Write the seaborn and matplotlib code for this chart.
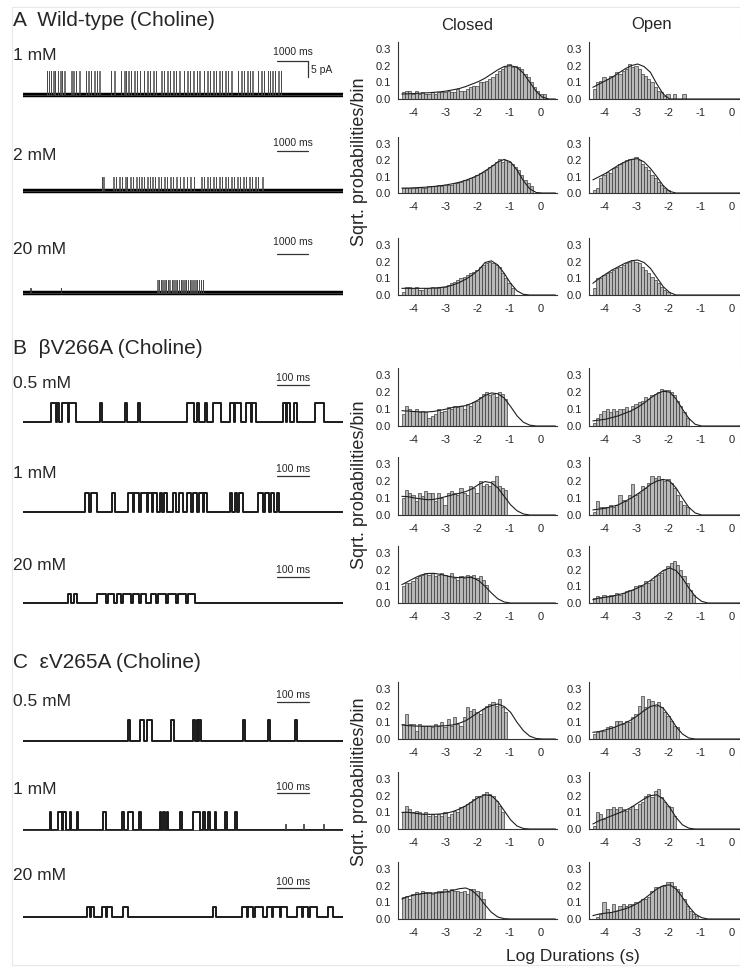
import numpy as np
import pandas as pd
import matplotlib
matplotlib.use("Agg")
import matplotlib.pyplot as plt
import seaborn as sns

# ================= DATA =================
# dwell-time histograms: sqrt(probability) per 0.1 log-unit bin, first bin at -4.35
BIN_START = -4.35
BIN_WIDTH = 0.1
FIT_X = np.round(-4.35 + 0.2 * np.arange(25), 2)

# --- A  wild-type ---
closed_wt_1 = [0.04, 0.05, 0.05, 0.03, 0.05, 0.03, 0.04, 0.03, 0.03, 0.04, 0.03, 0.04, 0.04,
               0.04, 0.05, 0.04, 0.04, 0.06, 0.05, 0.05, 0.06, 0.07, 0.08,
               0.08, 0.10, 0.10, 0.11, 0.12, 0.13, 0.15, 0.17, 0.18, 0.19,
               0.21, 0.19, 0.20, 0.19, 0.18, 0.15, 0.13, 0.10, 0.07, 0.05,
               0.03, 0.03]
fit_closed_wt_1 = [0.03, 0.031, 0.033, 0.035, 0.037, 0.04, 0.043, 0.048, 0.055, 0.063, 0.075, 0.09,
                   0.105, 0.125, 0.15, 0.175, 0.195, 0.20, 0.19, 0.155, 0.10, 0.045, 0.01, 0.0, 0.0]
open_wt_1 = [0.06, 0.10, 0.11, 0.13, 0.12, 0.14, 0.14, 0.16, 0.15, 0.17, 0.18, 0.21, 0.19, 0.20,
             0.18, 0.15, 0.14, 0.12, 0.10, 0.07, 0.05, 0.04, 0.02, 0.03, 0.0, 0.03, 0.0, 0.0, 0.03]
fit_open_wt_1 = [0.07, 0.09, 0.11, 0.13, 0.155, 0.18, 0.20, 0.21, 0.195, 0.16, 0.09, 0.03, 0.0,
                 0, 0, 0, 0, 0, 0, 0, 0, 0, 0, 0, 0]

closed_wt_2 = [0.03, 0.03, 0.03, 0.03, 0.03, 0.035, 0.03, 0.03, 0.04, 0.04, 0.04, 0.05, 0.04,
               0.05, 0.05, 0.05, 0.06, 0.06, 0.07, 0.08, 0.08, 0.09, 0.10,
               0.11, 0.12, 0.13, 0.14, 0.16, 0.17, 0.19, 0.21, 0.19, 0.20,
               0.19, 0.18, 0.16, 0.14, 0.11, 0.08, 0.06, 0.04]
fit_closed_wt_2 = [0.03, 0.03, 0.032, 0.034, 0.036, 0.04, 0.044, 0.05, 0.057, 0.066, 0.078, 0.093,
                   0.11, 0.135, 0.16, 0.19, 0.205, 0.19, 0.14, 0.075, 0.025, 0.003, 0, 0, 0]
open_wt_2 = [0.02, 0.03, 0.09, 0.11, 0.13, 0.12, 0.15, 0.16, 0.18, 0.19, 0.20, 0.21, 0.21, 0.22,
             0.20, 0.18, 0.16, 0.14, 0.11, 0.09, 0.07, 0.05, 0.03, 0.02]
fit_open_wt_2 = [0.08, 0.10, 0.12, 0.145, 0.17, 0.19, 0.205, 0.21, 0.19, 0.15, 0.10, 0.045, 0.01,
                 0, 0, 0, 0, 0, 0, 0, 0, 0, 0, 0, 0]

closed_wt_20 = [0.02, 0.05, 0.05, 0.04, 0.05, 0.03, 0.03, 0.04, 0.04, 0.05, 0.04, 0.04, 0.05,
                0.05, 0.06, 0.07, 0.08, 0.09, 0.10, 0.11, 0.12, 0.13, 0.14,
                0.15, 0.17, 0.18, 0.19, 0.20, 0.19, 0.18, 0.17, 0.13, 0.10, 0.07, 0.04]
fit_closed_wt_20 = [0.04, 0.04, 0.04, 0.04, 0.04, 0.042, 0.045, 0.05, 0.06, 0.075, 0.095, 0.12,
                    0.15, 0.195, 0.205, 0.18, 0.13, 0.07, 0.025, 0.004, 0, 0, 0, 0, 0]
open_wt_20 = [0.04, 0.10, 0.10, 0.12, 0.13, 0.14, 0.15, 0.16, 0.17, 0.18, 0.19, 0.20, 0.21, 0.20,
              0.19, 0.17, 0.15, 0.13, 0.11, 0.09, 0.07, 0.05, 0.03, 0.02]
fit_open_wt_20 = [0.07, 0.10, 0.125, 0.15, 0.17, 0.19, 0.205, 0.21, 0.195, 0.16, 0.105, 0.05, 0.015,
                  0, 0, 0, 0, 0, 0, 0, 0, 0, 0, 0, 0]

# --- B  betaV266A ---
closed_b_05 = [0.07, 0.12, 0.10, 0.09, 0.10, 0.08, 0.09, 0.08, 0.05, 0.06, 0.07, 0.10, 0.08,
               0.09, 0.11, 0.10, 0.12, 0.11, 0.12, 0.10, 0.13, 0.12, 0.14,
               0.15, 0.17, 0.19, 0.20, 0.18, 0.19, 0.17, 0.20, 0.19, 0.16]
fit_closed_b_05 = [0.09, 0.088, 0.085, 0.083, 0.083, 0.086, 0.093, 0.10, 0.11, 0.115, 0.12, 0.135,
                   0.155, 0.18, 0.195, 0.19, 0.165, 0.115, 0.06, 0.022, 0.005, 0, 0, 0, 0]
open_b_05 = [0.02, 0.05, 0.07, 0.09, 0.10, 0.08, 0.10, 0.09, 0.10, 0.10, 0.11, 0.09, 0.12, 0.13,
             0.14, 0.15, 0.17, 0.16, 0.18, 0.19, 0.20, 0.22, 0.21, 0.21,
             0.20, 0.18, 0.15, 0.12, 0.08, 0.05]
fit_open_b_05 = [0.03, 0.035, 0.04, 0.05, 0.06, 0.075, 0.09, 0.11, 0.135, 0.165, 0.19, 0.205, 0.20,
                 0.16, 0.10, 0.045, 0.01, 0, 0, 0, 0, 0, 0, 0, 0]

closed_b_1 = [0.10, 0.15, 0.13, 0.12, 0.08, 0.13, 0.11, 0.14, 0.13, 0.13, 0.08, 0.13, 0.10,
              0.06, 0.13, 0.14, 0.13, 0.12, 0.16, 0.13, 0.12, 0.17, 0.16,
              0.13, 0.20, 0.17, 0.18, 0.17, 0.20, 0.23, 0.17, 0.16, 0.15]
fit_closed_b_1 = [0.11, 0.108, 0.10, 0.095, 0.09, 0.092, 0.10, 0.11, 0.12, 0.128, 0.138, 0.155,
                  0.18, 0.197, 0.19, 0.16, 0.11, 0.06, 0.025, 0.006, 0, 0, 0, 0, 0]
open_b_1 = [0.02, 0.08, 0.05, 0.05, 0.05, 0.06, 0.05, 0.06, 0.12, 0.09, 0.08, 0.12, 0.18, 0.12,
            0.13, 0.17, 0.16, 0.19, 0.23, 0.22, 0.23, 0.21, 0.20, 0.21,
            0.19, 0.16, 0.12, 0.08, 0.06, 0.05]
fit_open_b_1 = [0.03, 0.035, 0.04, 0.05, 0.06, 0.08, 0.10, 0.125, 0.15, 0.18, 0.20, 0.21, 0.20,
                0.16, 0.10, 0.045, 0.012, 0, 0, 0, 0, 0, 0, 0, 0]

closed_b_20 = [0.10, 0.12, 0.12, 0.13, 0.15, 0.16, 0.17, 0.18, 0.17, 0.18, 0.16, 0.17, 0.18,
               0.17, 0.16, 0.18, 0.15, 0.14, 0.16, 0.15, 0.17, 0.16, 0.17,
               0.15, 0.16, 0.14, 0.11]
fit_closed_b_20 = [0.11, 0.13, 0.15, 0.168, 0.177, 0.178, 0.172, 0.163, 0.155, 0.152, 0.155, 0.152,
                   0.135, 0.10, 0.06, 0.025, 0.006, 0, 0, 0, 0, 0, 0, 0, 0]
open_b_20 = [0.03, 0.04, 0.03, 0.05, 0.04, 0.05, 0.05, 0.06, 0.05, 0.06, 0.07, 0.08, 0.08, 0.10,
             0.11, 0.10, 0.13, 0.12, 0.14, 0.16, 0.17, 0.18, 0.20, 0.22, 0.24,
             0.25, 0.23, 0.20, 0.16, 0.12, 0.08, 0.05]
fit_open_b_20 = [0.02, 0.03, 0.035, 0.04, 0.05, 0.06, 0.075, 0.09, 0.11, 0.135, 0.165, 0.195, 0.21,
                 0.195, 0.15, 0.09, 0.04, 0.01, 0, 0, 0, 0, 0, 0, 0]

# --- C  epsilonV265A ---
closed_c_05 = [0.09, 0.15, 0.09, 0.09, 0.05, 0.09, 0.08, 0.08, 0.08, 0.07, 0.09, 0.08, 0.10,
               0.07, 0.12, 0.08, 0.13, 0.09, 0.08, 0.13, 0.19, 0.17, 0.18,
               0.16, 0.15, 0.18, 0.20, 0.21, 0.22, 0.20, 0.24, 0.19, 0.16]
fit_closed_c_05 = [0.085, 0.08, 0.078, 0.077, 0.077, 0.077, 0.078, 0.08, 0.085, 0.095, 0.11, 0.135,
                   0.16, 0.185, 0.20, 0.21, 0.195, 0.16, 0.10, 0.05, 0.017, 0.003, 0, 0, 0]
open_c_05 = [0.03, 0.04, 0.05, 0.05, 0.07, 0.08, 0.07, 0.11, 0.11, 0.09, 0.11, 0.10, 0.13,
             0.15, 0.20, 0.26, 0.19, 0.24, 0.23, 0.20, 0.22, 0.19, 0.16,
             0.14, 0.11, 0.08, 0.07]
fit_open_c_05 = [0.04, 0.045, 0.055, 0.065, 0.08, 0.095, 0.115, 0.14, 0.17, 0.195, 0.205, 0.185,
                 0.135, 0.075, 0.03, 0.006, 0, 0, 0, 0, 0, 0, 0, 0, 0]

closed_c_1 = [0.10, 0.14, 0.12, 0.10, 0.11, 0.10, 0.09, 0.10, 0.08, 0.09, 0.08, 0.09, 0.08,
              0.10, 0.07, 0.09, 0.11, 0.10, 0.13, 0.14, 0.15, 0.16, 0.18,
              0.20, 0.19, 0.21, 0.22, 0.21, 0.20, 0.17, 0.14, 0.10]
fit_closed_c_1 = [0.10, 0.10, 0.095, 0.09, 0.088, 0.088, 0.09, 0.095, 0.105, 0.12, 0.14, 0.165,
                  0.19, 0.205, 0.20, 0.165, 0.11, 0.055, 0.018, 0.003, 0, 0, 0, 0, 0]
open_c_1 = [0.02, 0.10, 0.09, 0.06, 0.12, 0.12, 0.13, 0.12, 0.13, 0.12, 0.11, 0.12, 0.14,
            0.12, 0.15, 0.16, 0.20, 0.21, 0.19, 0.23, 0.24, 0.19, 0.16,
            0.14, 0.13, 0.08]
fit_open_c_1 = [0.03, 0.05, 0.065, 0.08, 0.095, 0.11, 0.13, 0.155, 0.18, 0.20, 0.205, 0.18, 0.13,
                0.07, 0.025, 0.005, 0, 0, 0, 0, 0, 0, 0, 0, 0]

closed_c_20 = [0.13, 0.14, 0.12, 0.15, 0.16, 0.15, 0.17, 0.16, 0.16, 0.15, 0.16, 0.17, 0.17,
               0.18, 0.16, 0.18, 0.17, 0.17, 0.16, 0.17, 0.15, 0.18, 0.18,
               0.17, 0.16, 0.12]
fit_closed_c_20 = [0.12, 0.135, 0.145, 0.152, 0.155, 0.155, 0.158, 0.163, 0.172, 0.182, 0.186, 0.17,
                   0.135, 0.085, 0.04, 0.012, 0.002, 0, 0, 0, 0, 0, 0, 0, 0]
open_c_20 = [0.0, 0.01, 0.03, 0.10, 0.06, 0.04, 0.09, 0.05, 0.08, 0.09, 0.08, 0.09, 0.09, 0.10,
             0.10, 0.12, 0.12, 0.13, 0.17, 0.19, 0.19, 0.20, 0.20, 0.22,
             0.22, 0.20, 0.18, 0.16, 0.12, 0.08, 0.05, 0.03, 0.02]
fit_open_c_20 = [0.02, 0.03, 0.035, 0.04, 0.05, 0.06, 0.075, 0.095, 0.12, 0.15, 0.18, 0.20, 0.205,
                 0.18, 0.13, 0.075, 0.03, 0.008, 0, 0, 0, 0, 0, 0, 0]

# single-channel traces
# wild-type: brief openings (s) over a 10.3 s sweep
WT_SWEEP = 10.3
wt_1mm_spikes = [0.77, 0.83, 0.90, 0.98, 1.03, 1.12, 1.20, 1.25, 1.33, 1.55, 1.62, 1.70, 1.81,
                 2.02, 2.10, 2.18, 2.30, 2.37, 2.46, 2.83, 2.94, 3.15, 3.26, 3.31, 3.39, 3.47,
                 3.58, 3.66, 3.75, 3.89, 4.00, 4.08, 4.20, 4.27, 4.45, 4.53, 4.65, 4.72, 4.84,
                 4.92, 5.03, 5.17, 5.29, 5.37, 5.48, 5.59, 5.68, 5.82, 5.93, 6.01, 6.13, 6.20,
                 6.32, 6.40, 6.51, 6.59, 6.71, 6.91, 7.03, 7.11, 7.22, 7.30, 7.38, 7.56, 7.67,
                 7.75, 7.87, 7.94, 8.03, 8.10, 8.22, 8.30]
wt_2mm_spikes = [2.54, 2.59, 2.90, 2.99, 3.10, 3.18, 3.29, 3.34, 3.45, 3.53, 3.65, 3.73, 3.81,
                 3.89, 4.00, 4.08, 4.16, 4.24, 4.36, 4.43, 4.55, 4.63, 4.74, 4.82, 4.94, 5.05,
                 5.16, 5.27, 5.39, 5.50, 5.74, 5.82, 5.93, 6.01, 6.13, 6.20, 6.32, 6.40, 6.51,
                 6.59, 6.71, 6.78, 6.90, 6.98, 7.09, 7.17, 7.29, 7.36, 7.48, 7.56, 7.70]
wt_20mm_spikes = [4.32, 4.37, 4.43, 4.48, 4.55, 4.60, 4.66, 4.71, 4.78, 4.83, 4.90, 4.95, 5.01,
                  5.07, 5.12, 5.19, 5.24, 5.31, 5.36, 5.42, 5.48, 5.55, 5.60, 5.66, 5.72, 5.78]
wt_20mm_blips = [0.23, 1.22]
WT_SPIKE_DUR = 0.015

# mutants: open intervals (ms) over a 1000 ms sweep
MUT_SWEEP = 1000.0
bv_05_open = [(89, 103), (107, 113), (121, 140), (143, 166), (241, 246), (319, 324), (360, 367),
              (511, 534), (545, 551), (569, 574), (595, 618), (647, 660), (663, 680), (696, 711),
              (716, 728), (811, 822), (826, 834), (847, 857), (912, 941)]
bv_1_open = [(194, 207), (211, 230), (277, 287), (329, 343), (347, 363), (368, 386), (391, 402),
             (407, 418), (428, 434), (441, 449), (470, 478), (488, 499), (513, 524), (530, 545),
             (551, 561), (566, 576), (647, 654), (662, 670), (676, 686), (735, 751), (756, 770),
             (774, 784), (795, 801)]
bv_20_open = [(142, 150), (159, 168), (230, 259), (266, 284), (293, 305), (313, 336), (343, 363),
              (370, 384), (399, 416), (423, 447), (454, 478), (485, 509), (517, 537)]
ev_05_open = [(329, 334), (366, 378), (389, 403), (461, 472), (532, 536), (543, 547), (551, 555),
              (686, 694), (766, 772), (851, 857)]
ev_1_open = [(84, 87), (110, 122), (125, 134), (147, 150), (168, 172), (251, 259), (308, 317),
             (329, 343), (363, 368), (428, 432), (438, 443), (449, 453), (490, 497), (530, 553),
             (563, 568), (579, 583), (600, 604), (631, 636), (662, 670)]
ev_1_blips = [819, 876, 938]
ev_20_open = [(201, 209), (213, 222), (246, 259), (263, 277), (311, 329), (595, 603), (683, 699),
              (703, 720), (724, 751), (761, 777), (780, 803), (807, 824), (855, 871), (875, 892),
              (897, 918), (954, 970)]

# open-channel amplitude (pA) of each sweep
trace_amp = [7.5, 4.4, 4.1, 5.9, 5.9, 2.8, 6.6, 5.6, 3.1]
conc_labels = ["1 mM", "2 mM", "20 mM", "0.5 mM", "1 mM", "20 mM", "0.5 mM", "1 mM", "20 mM"]
panel_titles = ["A  Wild-type (Choline)", "B  \u03b2V266A (Choline)", "C  \u03b5V265A (Choline)"]

# ================= LAYOUT (pixels) =================
W, H = 740, 967
PA_PER_PX = 5 / 16.0
hist_rows_px = [(42, 99), (137, 193), (238, 295), (368, 426), (457, 515), (546, 603),
                (682, 739), (772, 829), (862, 919)]
hist_cols_px = [(398, 557), (589, 748)]
trace_base_px = [95, 191, 293, 422, 512, 603, 741, 830, 917]
label_y_px = [55, 155, 249, 384, 473, 565, 701, 790, 875]
bar_text_y_px = [52, 143, 242, 378, 469, 570, 695, 787, 882]
bar_y_px = [61, 151, 254, 385, 476, 577, 702, 793, 888]
title_y_px = [20, 349, 663]
ylabel_y_px = [162, 485, 782]


def px_rect(x0, y0, x1, y1):
    return [x0 / W, 1 - y1 / H, (x1 - x0) / W, (y1 - y0) / H]


def step_xy(intervals, level, total):
    xs, ys = [0.0], [0.0]
    for s, e in intervals:
        xs += [s, e]
        ys += [level, 0.0]
    xs.append(total)
    ys.append(0.0)
    return xs, ys


sns.set_style("white")
plt.rcParams['font.family'] = ['Liberation Sans', 'DejaVu Sans']
plt.rcParams['axes.unicode_minus'] = False

fig = plt.figure(figsize=(W / 100, H / 100), dpi=100)

# faint frame of the original figure
frame = fig.add_axes([0, 0, 1, 1], zorder=-5)
frame.set_axis_off()
frame.set_xlim(0, W)
frame.set_ylim(H, 0)
frame.plot([12, W, W, 12, 12], [7, 7, 965, 965, 7], color='#e8e8e8', lw=0.8)

# ---------- histograms ----------
hist_data = [
    (closed_wt_1, fit_closed_wt_1, open_wt_1, fit_open_wt_1),
    (closed_wt_2, fit_closed_wt_2, open_wt_2, fit_open_wt_2),
    (closed_wt_20, fit_closed_wt_20, open_wt_20, fit_open_wt_20),
    (closed_b_05, fit_closed_b_05, open_b_05, fit_open_b_05),
    (closed_b_1, fit_closed_b_1, open_b_1, fit_open_b_1),
    (closed_b_20, fit_closed_b_20, open_b_20, fit_open_b_20),
    (closed_c_05, fit_closed_c_05, open_c_05, fit_open_c_05),
    (closed_c_1, fit_closed_c_1, open_c_1, fit_open_c_1),
    (closed_c_20, fit_closed_c_20, open_c_20, fit_open_c_20),
]

for r, (top, bot) in enumerate(hist_rows_px):
    cb, cf, ob, of = hist_data[r]
    for c, (bars, fit) in enumerate([(cb, cf), (ob, of)]):
        x0, x1 = hist_cols_px[c]
        ax = fig.add_axes(px_rect(x0, top, x1, bot))
        edges = [round(BIN_START + BIN_WIDTH * k, 3) for k in range(len(bars) + 1)]
        df = pd.DataFrame({'logdur': [e + BIN_WIDTH / 2 for e in edges[:-1]], 'p': bars})
        sns.histplot(data=df, x='logdur', weights='p', bins=edges, ax=ax, color='#b8b8b8',
                     edgecolor='#2e2e2e', linewidth=0.45, alpha=1)
        sns.lineplot(x=FIT_X, y=fit, ax=ax, color='#1e1e1e', lw=0.8,
                     estimator=None, sort=False)
        ax.set_xlim(-4.47, 0.5)
        ax.set_ylim(0, 0.342)
        ax.set_xticks([-4, -3, -2, -1, 0])
        ax.set_yticks([0, 0.1, 0.2, 0.3])
        ax.set_yticklabels(['0.0', '0.1', '0.2', '0.3'])
        ax.set_xlabel('')
        ax.set_ylabel('')
        for s in ['top', 'right']:
            ax.spines[s].set_visible(False)
        for s in ['left', 'bottom']:
            ax.spines[s].set_color('#333333')
            ax.spines[s].set_linewidth(0.8)
        ax.tick_params(axis='both', length=2.5, width=0.6, color='#333333', labelsize=8)
        ax.tick_params(axis='x', pad=4)
        ax.tick_params(axis='y', pad=2.5)

# ---------- traces ----------
trace_specs = [
    ('wt', wt_1mm_spikes, None), ('wt', wt_2mm_spikes, None), ('wt', wt_20mm_spikes, wt_20mm_blips),
    ('mut', bv_05_open, None), ('mut', bv_1_open, None), ('mut', bv_20_open, None),
    ('mut', ev_05_open, None), ('mut', ev_1_open, ev_1_blips), ('mut', ev_20_open, None),
]

for i, (kind, events, blips) in enumerate(trace_specs):
    base = trace_base_px[i]
    ax = fig.add_axes(px_rect(23, base - 40, 343, base + 6))
    ax.set_axis_off()
    amp = trace_amp[i]
    if kind == 'wt':
        total = WT_SWEEP
        intervals = [(t, t + WT_SPIKE_DUR) for t in events]
        sns.lineplot(x=[0, total], y=[0, 0], ax=ax, color='black', lw=3.2,
                     estimator=None, sort=False)
        xs, ys = step_xy(intervals, amp, total)
        sns.lineplot(x=xs, y=ys, ax=ax, color='#4a4a4a', lw=0.55, drawstyle='steps-post',
                     estimator=None, sort=False)
        bar_len, bar_lab = 1.0, "1000 ms"
    else:
        total = MUT_SWEEP
        xs, ys = step_xy(events, amp, total)
        sns.lineplot(x=xs, y=ys, ax=ax, color='#1a1a1a', lw=1.4, drawstyle='steps-post',
                     estimator=None, sort=False)
        bar_len, bar_lab = 100.0, "100 ms"
    if blips is not None:
        dur = WT_SPIKE_DUR if kind == 'wt' else 2.0
        xs, ys = step_xy([(t, t + dur) for t in blips], 0.35 * amp, total)
        sns.lineplot(x=xs, y=ys, ax=ax, color='#3a3a3a', lw=0.6, drawstyle='steps-post',
                     estimator=None, sort=False)
    ax.set_xlim(0, total)
    ax.set_ylim(-6 * PA_PER_PX, 40 * PA_PER_PX)

    # scale bar
    bx0 = (277 - 23) / 320.0 * total
    by = (base - bar_y_px[i]) * PA_PER_PX
    ax.plot([bx0, bx0 + bar_len], [by, by], color='#333333', lw=0.9, clip_on=False)
    fig.text((bx0 + bar_len / 2) / total * 320 / W + 23 / W, 1 - bar_text_y_px[i] / H,
             bar_lab, fontsize=7.5, ha='center', va='center')
    if i == 0:
        ax.plot([bx0 + bar_len] * 2, [by, by - 5.0], color='#333333', lw=0.9, clip_on=False)
        fig.text(311 / W, 1 - 70 / H, "5 pA", fontsize=7.5, ha='left', va='center')

    fig.text(13 / W, 1 - label_y_px[i] / H, conc_labels[i], fontsize=12.5, ha='left', va='center')

for k, t in enumerate(panel_titles):
    fig.text(13 / W, 1 - title_y_px[k] / H, t, fontsize=15, ha='left', va='center')
    fig.text(360 / W, 1 - ylabel_y_px[k] / H, "Sqrt. probabilities/bin", fontsize=13,
             rotation=90, ha='center', va='center')

fig.text(467 / W, 1 - 25 / H, "Closed", fontsize=12, ha='center', va='center')
fig.text(652 / W, 1 - 25 / H, "Open", fontsize=12, ha='center', va='center')
fig.text(573 / W, 1 - 956 / H, "Log Durations (s)", fontsize=12.5, ha='center', va='center')

fig.savefig("out.png", dpi=100)
